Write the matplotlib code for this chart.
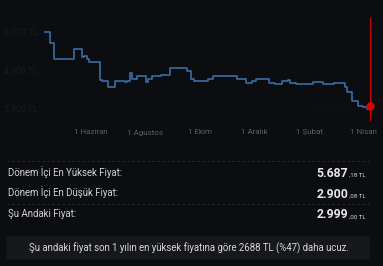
import matplotlib
matplotlib.use('Agg')
import matplotlib.pyplot as plt
import matplotlib.dates as mdates
from matplotlib.patches import FancyBboxPatch
import pandas as pd

plt.rcParams['font.family'] = ['Roboto', 'DejaVu Sans']

# price history (step changes)
dates = ['2023-04-11', '2023-04-16', '2023-04-21', '2023-05-13', '2023-05-22', '2023-05-24',
         '2023-05-28', '2023-05-30', '2023-06-11', '2023-06-13', '2023-06-20', '2023-06-28',
         '2023-07-09', '2023-07-11', '2023-07-15', '2023-07-17', '2023-07-22', '2023-08-02',
         '2023-08-04', '2023-08-08', '2023-08-18', '2023-08-29', '2023-09-17', '2023-09-21',
         '2023-09-24', '2023-10-10', '2023-10-16', '2023-11-11', '2023-11-22', '2023-11-28',
         '2023-12-03', '2023-12-17', '2023-12-24', '2024-01-01', '2024-01-08', '2024-01-10',
         '2024-01-16', '2024-02-04', '2024-02-16', '2024-02-28', '2024-03-11', '2024-03-13',
         '2024-03-19', '2024-03-26', '2024-04-01', '2024-04-05', '2024-04-08']
prices = [5687, 5278, 4698, 5060, 4794, 4819,
          4698, 4602, 3950, 3926, 3684, 3902,
          3865, 3902, 4191, 3974, 4094, 3889,
          3998, 4094, 4143, 4396, 4288, 3974,
          3914, 3974, 4083, 3974, 3853, 3902,
          3974, 3853, 3805, 3902, 3950, 3853,
          3793, 3877, 3793, 3853, 3684, 3503,
          3189, 3008, 2984, 2900, 2999]

ytick_vals = [2900, 4300, 5700]
ytick_labels = ['2.900 TL', '4.300 TL', '5.700 TL']
xtick_dates = ['2023-06-01', '2023-08-01', '2023-10-01', '2023-12-01', '2024-02-01', '2024-04-01']
xtick_labels = ['1 Haziran', '1 Ağustos', '1 Ekim', '1 Aralık', '1 Şubat', '1 Nisan']

row_labels = ['Dönem İçi En Yüksek Fiyat:', 'Dönem İçi En Düşük Fiyat:', 'Şu Andaki Fiyat:']
row_main = ['5.687', '2.900', '2.999']
row_cents = [',18 TL', ',08 TL', ',00 TL']
note = 'Şu andaki fiyat son 1 yılın en yüksek fiyatına göre 2688 TL (%47) daha ucuz.'

BG = '#0b0d10'
W, H = 383, 266

fig = plt.figure(figsize=(W / 100, H / 100), dpi=100, facecolor=BG)

def fx(px):
    return px / W

def fy(py):
    return 1 - py / H

# chart axes
ax = fig.add_axes([fx(40), fy(121), fx(336), 103 / H])
ax.set_facecolor(BG)
d = pd.to_datetime(dates)
ax.plot(d, prices, drawstyle='steps-post', color='#3a6ca3', lw=1.2)
ax.axvline(d[-1], color='#cc0000', lw=0.9)
ax.plot(d[-1], prices[-1], 'o', color='#e00000', ms=5, zorder=5)
ax.set_xlim(pd.Timestamp('2023-04-05'), pd.Timestamp('2024-04-15'))
ax.set_ylim(2465, 6196)
ax.set_yticks(ytick_vals)
ax.set_yticklabels(ytick_labels)
ax.set_xticks(pd.to_datetime(xtick_dates))
ax.set_xticklabels(xtick_labels)
ax.tick_params(axis='x', length=0, pad=6, labelsize=5.8, labelcolor='#5c5f63')
ax.tick_params(axis='y', length=0, pad=2, labelsize=6.2, labelcolor='#181b1f')
for s in ax.spines.values():
    s.set_visible(False)
ax.grid(axis='y', color='#13161a', lw=0.5, ls=':')
ax.text(0.88, 0.12, 'akakçe', transform=ax.transAxes, ha='center', va='center',
        fontsize=9, color='#0f1215', zorder=0)

# info rows
for yy in [161, 204]:
    fig.add_artist(plt.Line2D([fx(7), fx(370)], [fy(yy), fy(yy)], color='#2b2e32',
                              lw=0.6, ls=(0, (3, 3))))

label_base = [175.5, 196.3, 216.8]
value_base = [176.7, 197.5, 218.5]
for i in range(3):
    fig.text(fx(7.5), fy(label_base[i]), row_labels[i], ha='left', va='baseline',
             fontsize=6.9, color='#d2d2d2')
    fig.text(fx(348.3), fy(value_base[i]), row_main[i], ha='right', va='baseline',
             fontsize=8.8, color='#e8e8e8', fontweight='bold')
    fig.text(fx(348.6), fy(value_base[i]), row_cents[i], ha='left', va='baseline',
             fontsize=4.4, color='#d8d8d8')

box = FancyBboxPatch((fx(6.5), fy(259.5)), fx(363.5), 23.5 / H,
                     boxstyle='round,pad=0,rounding_size=0.008',
                     transform=fig.transFigure, facecolor='#16181c', edgecolor='none')
fig.add_artist(box)
fig.text(fx(188.5), fy(248), note, ha='center', va='center', fontsize=6.9, color='#d6d6d6')

fig.savefig('out.png', dpi=100, facecolor=BG)
